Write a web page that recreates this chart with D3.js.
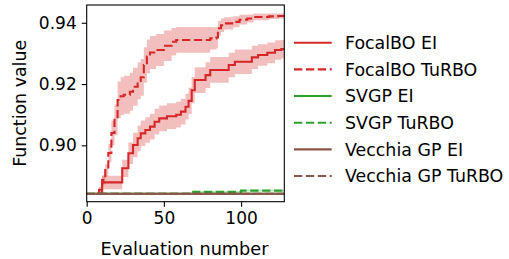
<!DOCTYPE html>
<html>
<head>
<meta charset="utf-8">
<script src="https://cdn.jsdelivr.net/npm/d3@7"></script>
<style>
  body { margin: 0; background: #fff; }
  text { font-family: "DejaVu Sans", sans-serif; }
</style>
</head>
<body>
<div id="chart"></div>
<script>
// step traces: [evaluation, mean, half band]
const focalEI = [
  [7, 0.8843, 0.0005], [10, 0.8879, 0.0022], [23, 0.8925, 0.0028], [27, 0.8974, 0.0035],
  [30, 0.9001, 0.0040], [33, 0.9023, 0.0042], [35, 0.9039, 0.0042], [38, 0.9050, 0.0042],
  [41, 0.9061, 0.0042], [44, 0.9077, 0.0042], [47, 0.9088, 0.0042], [52, 0.9095, 0.0042],
  [58, 0.9100, 0.0042], [61, 0.9110, 0.0042], [64, 0.9126, 0.0042], [66, 0.9145, 0.0043],
  [68, 0.9180, 0.0043], [70, 0.9213, 0.0042], [77, 0.9229, 0.0042], [80, 0.9246, 0.0042],
  [92, 0.9262, 0.0040], [96, 0.9273, 0.0040], [107, 0.9287, 0.0038], [111, 0.9295, 0.0035],
  [117, 0.9302, 0.0034], [122, 0.9311, 0.0032], [126, 0.9314, 0.0030], [128, 0.9316, 0.0030]
];
const focalTuRBO = [
  [7, 0.8843, 0.0005], [8, 0.8855, 0.0010], [10, 0.8887, 0.0015], [12, 0.8919, 0.0020],
  [14, 0.8975, 0.0030], [16, 0.9040, 0.0040], [18, 0.9083, 0.0050], [20, 0.9148, 0.0060],
  [22, 0.9160, 0.0062], [24, 0.9165, 0.0062], [28, 0.9175, 0.0062], [30, 0.9191, 0.0062],
  [33, 0.9210, 0.0060], [35, 0.9222, 0.0060], [37, 0.9262, 0.0058], [39, 0.9290, 0.0055],
  [41, 0.9303, 0.0054], [45, 0.9311, 0.0052], [50, 0.9325, 0.0050], [55, 0.9338, 0.0045],
  [58, 0.9344, 0.0042], [80, 0.9349, 0.0036], [84, 0.9352, 0.0035], [85, 0.9382, 0.0024],
  [87, 0.9392, 0.0022], [89, 0.9398, 0.0020], [95, 0.9403, 0.0018], [99, 0.9410, 0.0016],
  [104, 0.9414, 0.0013], [108, 0.9419, 0.0011], [118, 0.9421, 0.0009], [124, 0.9422, 0.0008],
  [128, 0.9422, 0.0008]
];
const svgpEI = [[0, 0.8842, 0.0001], [128, 0.8842, 0.0001]];
const svgpTuRBO = [[0, 0.8842, 0.0001], [69, 0.8848, 0.0003], [100, 0.8852, 0.0003], [128, 0.8852, 0.0003]];
const vecchiaEI = [[0, 0.8842, 0], [128, 0.8842, 0]];
const vecchiaTuRBO = [[0, 0.8842, 0], [128, 0.8842, 0]];

const seriesNames = ["FocalBO EI", "FocalBO TuRBO", "SVGP EI", "SVGP TuRBO", "Vecchia GP EI", "Vecchia GP TuRBO"];
const seriesData = [focalEI, focalTuRBO, svgpEI, svgpTuRBO, vecchiaEI, vecchiaTuRBO];
const seriesColors = ["#d62728", "#d62728", "#2ca02c", "#2ca02c", "#8c564b", "#8c564b"];
const seriesDashed = [false, true, false, true, false, true];

const xTicks = [0, 50, 100];
const yTicks = [0.90, 0.92, 0.94];

const width = 509, height = 259;
const margin = { top: 5, right: 224.7, bottom: 57.3, left: 86.7 };
const innerW = width - margin.left - margin.right;
const innerH = height - margin.top - margin.bottom;

const svg = d3.select("#chart").append("svg")
    .attr("width", width)
    .attr("height", height);

const g = svg.append("g")
    .attr("transform", `translate(${margin.left},${margin.top})`);

const x = d3.scaleLinear().domain([0, 128]).range([0, innerW]);
const y = d3.scaleLinear().domain([0.8816, 0.9458]).range([innerH, 0]);

g.append("defs").append("clipPath").attr("id", "clip")
  .append("rect").attr("width", innerW).attr("height", innerH);

const plot = g.append("g").attr("clip-path", "url(#clip)");

const area = d3.area()
    .curve(d3.curveStepAfter)
    .x(d => x(d[0]))
    .y0(d => y(d[1] - d[2]))
    .y1(d => y(d[1] + d[2]));

const line = d3.line()
    .curve(d3.curveStepAfter)
    .x(d => x(d[0]))
    .y(d => y(d[1]));

const dash = "8.3,3.6";

seriesData.forEach((data, i) => {
  plot.append("path")
    .attr("d", area(data))
    .attr("fill", seriesColors[i])
    .attr("fill-opacity", 0.3)
    .attr("stroke", "none");
  plot.append("path")
    .attr("d", line(data))
    .attr("fill", "none")
    .attr("stroke", seriesColors[i])
    .attr("stroke-width", 2.1)
    .attr("stroke-dasharray", seriesDashed[i] ? dash : null);
});

// axes
const xAxis = g.append("g")
    .attr("transform", `translate(0,${innerH})`)
    .call(d3.axisBottom(x).tickValues(xTicks).tickSize(5).tickPadding(5).tickFormat(d3.format("d")));
const yAxis = g.append("g")
    .call(d3.axisLeft(y).tickValues(yTicks).tickSize(5).tickPadding(5).tickFormat(d3.format(".2f")));

[xAxis, yAxis].forEach(a => {
  a.select(".domain").remove();
  a.selectAll(".tick line").attr("stroke", "#000").attr("stroke-width", 1.1);
  a.selectAll(".tick text")
    .attr("fill", "#000")
    .style("font-size", "17px");
});

g.append("rect")
    .attr("width", innerW)
    .attr("height", innerH)
    .attr("fill", "none")
    .attr("stroke", "#000")
    .attr("stroke-width", 1.1);

g.append("text")
    .attr("x", innerW / 2 - 1)
    .attr("y", innerH + 53)
    .attr("text-anchor", "middle")
    .style("font-size", "17.7px")
    .text("Evaluation number");

g.append("text")
    .attr("transform", `translate(${26.5 - margin.left},${innerH / 2}) rotate(-90)`)
    .attr("text-anchor", "middle")
    .style("font-size", "17.4px")
    .text("Function value");

// legend
const legend = svg.append("g").attr("transform", "translate(294,42.7)");
seriesNames.forEach((name, i) => {
  const row = legend.append("g").attr("transform", `translate(0,${i * 26.66})`);
  row.append("line")
    .attr("x1", 0).attr("x2", 37.7)
    .attr("stroke", seriesColors[i])
    .attr("stroke-width", 2.1)
    .attr("stroke-dasharray", seriesDashed[i] ? dash : null);
  row.append("text")
    .attr("x", 51)
    .attr("y", 6.4)
    .style("font-size", "17.4px")
    .text(name);
});
</script>
</body>
</html>
